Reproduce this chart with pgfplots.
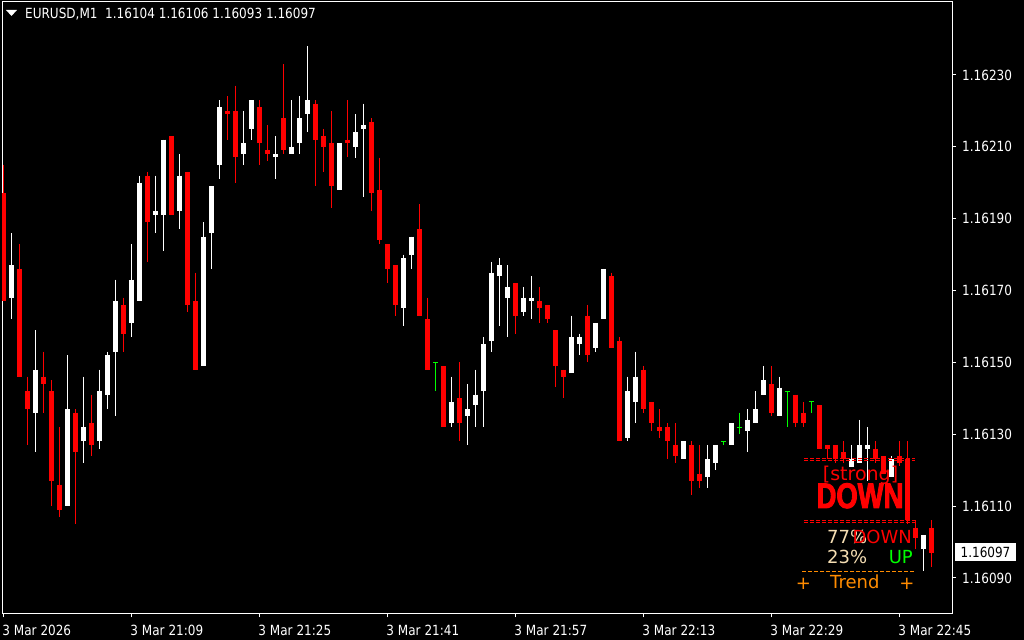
\documentclass[border=0pt]{standalone}
\usepackage{pgfplots}
\pgfplotsset{compat=1.18}
\usepackage{pgfplotstable}
\usepackage{fontspec}
\setmainfont{DejaVu Sans}[FakeStretch=0.86]
\newfontfamily\indfont{DejaVu Sans}
\newfontfamily\bigfont{Liberation Sans}[FakeStretch=0.77, BoldFeatures={FakeBold=2.5}]
\definecolor{mtred}{RGB}{255,0,0}
\definecolor{mtgreen}{RGB}{0,255,0}
\definecolor{mtwheat}{RGB}{245,222,179}
\definecolor{mtorange}{RGB}{255,140,0}
\newcommand\tfont{\fontsize{14bp}{16bp}\selectfont}

\pgfplotstableread{
i o h l c
1 1.16168 1.16186 1.16162 1.16177
4 1.16136 1.16159 1.16125 1.16148
8 1.16110 1.16152 1.16110 1.16137
10 1.16128 1.16146 1.16122 1.16132
12 1.16128 1.16148 1.16126 1.16142
13 1.16141 1.16153 1.16137 1.16152
14 1.16153 1.16173 1.16135 1.16167
16 1.16161 1.16183 1.16157 1.16173
17 1.16167 1.16202 1.16167 1.16200
19 1.16191 1.16202 1.16186 1.16192
20 1.16191 1.16212 1.16181 1.16212
22 1.16192 1.16208 1.16187 1.16202
25 1.16149 1.16189 1.16149 1.16185
26 1.16186 1.16199 1.16176 1.16199
27 1.16205 1.16223 1.16201 1.16221
30 1.16208 1.16220 1.16205 1.16211
31 1.16215 1.16223 1.16212 1.16223
34 1.16207 1.16213 1.16201 1.16208
36 1.16208 1.16223 1.16208 1.16210
37 1.16211 1.16224 1.16208 1.16218
38 1.16219 1.16238 1.16214 1.16223
42 1.16198 1.16211 1.16198 1.16211
44 1.16210 1.16219 1.16207 1.16214
45 1.16215 1.16222 1.16196 1.16216
50 1.16165 1.16180 1.16160 1.16179
51 1.16180 1.16185 1.16176 1.16185
56 1.16133 1.16146 1.16132 1.16139
58 1.16135 1.16144 1.16127 1.16137
59 1.16138 1.16148 1.16132 1.16141
60 1.16142 1.16157 1.16132 1.16155
61 1.16156 1.16178 1.16153 1.16175
62 1.16174 1.16179 1.16160 1.16177
63 1.16168 1.16177 1.16157 1.16171
65 1.16164 1.16171 1.16163 1.16168
66 1.16167 1.16174 1.16162 1.16168
71 1.16147 1.16163 1.16147 1.16157
72 1.16155 1.16158 1.16152 1.16157
74 1.16154 1.16161 1.16153 1.16161
75 1.16162 1.16176 1.16162 1.16176
78 1.16129 1.16146 1.16128 1.16142
79 1.16139 1.16153 1.16133 1.16146
85 1.16123 1.16128 1.16123 1.16128
88 1.16118 1.16127 1.16115 1.16123
89 1.16122 1.16127 1.16120 1.16127
91 1.16127 1.16133 1.16127 1.16133
93 1.16131 1.16137 1.16125 1.16134
94 1.16133 1.16142 1.16133 1.16137
95 1.16141 1.16149 1.16141 1.16145
97 1.16135 1.16146 1.16135 1.16143
106 1.16121 1.16127 1.16121 1.16123
107 1.16122 1.16134 1.16122 1.16127
108 1.16126 1.16132 1.16117 1.16127
111 1.16118 1.16124 1.16118 1.16123
115 1.16098 1.16102 1.16092 1.16102
}\bull

\pgfplotstableread{
i o h l c
0 1.16197 1.16205 1.16167 1.16167
2 1.16176 1.16183 1.16146 1.16146
3 1.16142 1.16146 1.16127 1.16137
5 1.16146 1.16153 1.16136 1.16144
6 1.16142 1.16145 1.16110 1.16117
7 1.16116 1.16132 1.16107 1.16109
9 1.16136 1.16137 1.16105 1.16125
11 1.16133 1.16141 1.16124 1.16127
15 1.16166 1.16168 1.16153 1.16158
18 1.16202 1.16203 1.16178 1.16189
21 1.16213 1.16213 1.16191 1.16191
23 1.16203 1.16203 1.16164 1.16166
24 1.16167 1.16175 1.16148 1.16148
28 1.16220 1.16224 1.16212 1.16219
29 1.16220 1.16227 1.16200 1.16207
32 1.16221 1.16223 1.16205 1.16211
33 1.16209 1.16216 1.16206 1.16208
35 1.16218 1.16233 1.16208 1.16209
39 1.16222 1.16223 1.16199 1.16212
40 1.16213 1.16215 1.16203 1.16210
41 1.16211 1.16220 1.16193 1.16199
43 1.16212 1.16223 1.16207 1.16211
46 1.16217 1.16218 1.16192 1.16197
47 1.16198 1.16207 1.16183 1.16184
48 1.16183 1.16183 1.16172 1.16176
49 1.16177 1.16177 1.16163 1.16166
52 1.16187 1.16194 1.16163 1.16163
53 1.16162 1.16168 1.16148 1.16148
55 1.16149 1.16149 1.16132 1.16132
57 1.16140 1.16150 1.16128 1.16133
64 1.16172 1.16172 1.16158 1.16163
67 1.16167 1.16171 1.16161 1.16165
68 1.16166 1.16166 1.16161 1.16162
69 1.16159 1.16159 1.16143 1.16149
70 1.16148 1.16148 1.16140 1.16146
73 1.16163 1.16166 1.16150 1.16152
76 1.16174 1.16175 1.16154 1.16154
77 1.16156 1.16157 1.16128 1.16128
80 1.16148 1.16149 1.16136 1.16137
81 1.16139 1.16139 1.16131 1.16133
82 1.16132 1.16137 1.16129 1.16131
83 1.16132 1.16133 1.16123 1.16128
84 1.16127 1.16133 1.16122 1.16124
86 1.16127 1.16128 1.16113 1.16117
87 1.16119 1.16127 1.16115 1.16117
96 1.16144 1.16149 1.16135 1.16136
99 1.16141 1.16141 1.16132 1.16133
100 1.16136 1.16139 1.16132 1.16133
102 1.16138 1.16138 1.16126 1.16126
103 1.16127 1.16127 1.16123 1.16126
104 1.16127 1.16127 1.16122 1.16123
105 1.16125 1.16128 1.16122 1.16123
109 1.16126 1.16128 1.16122 1.16123
110 1.16124 1.16124 1.16119 1.16119
112 1.16124 1.16128 1.16121 1.16122
113 1.16123 1.16128 1.16105 1.16106
114 1.16104 1.16106 1.16098 1.16101
116 1.16104 1.16106 1.16093 1.16097
}\bear

\pgfplotstableread{
i o h l c
54 1.16150 1.16150 1.16142 1.16150
90 1.16128 1.16128 1.16127 1.16128
92 1.16132 1.16136 1.16130 1.16132
98 1.16142 1.16142 1.16132 1.16142
101 1.16139 1.16139 1.16136 1.16139
}\doji

\begin{document}
\begin{tikzpicture}
\useasboundingbox (0,0) rectangle (1024bp,640bp);
\fill[black] (0,0) rectangle (1024bp,640bp);
\begin{axis}[
  at={(2bp,26.5bp)}, anchor=south west,
  width=950bp, height=611.5bp, scale only axis,
  xmin=-0.1625, xmax=118.59,
  ymin=1.160801, ymax=1.162503,
  axis line style={white, line width=1bp},
  ytick={1.1609,1.1611,1.1613,1.1615,1.1617,1.1619,1.1621,1.1623},
  yticklabels={1.16090,1.16110,1.16130,1.16150,1.16170,1.16190,1.16210,1.16230},
  ytick pos=right, yticklabel pos=right,
  xtick={0,16,32,48,64,80,96,112},
  xticklabels={3 Mar 2026,3 Mar 21:09,3 Mar 21:25,3 Mar 21:41,3 Mar 21:57,3 Mar 22:13,3 Mar 22:29,3 Mar 22:45},
  xtick pos=left,
  tick align=outside,
  major tick length=4bp,
  tick style={white, line width=1bp},
  tick label style={font=\tfont, text=white, inner sep=0pt},
  yticklabel style={anchor=west, xshift=6bp},
  xticklabel style={anchor=north west, xshift=-1bp, yshift=-7.5bp},
  /pgf/number format/assume math mode=true,
  clip=true,
]
% wicks
\addplot[forget plot, draw=none, mark=none, error bars/.cd, y dir=minus, y explicit, error mark=none,
  error bar style={draw=white, line width=1bp}]
  table[x=i, y=h, y error minus expr=\thisrow{h}-\thisrow{l}] {\bull};
\addplot[forget plot, draw=none, mark=none, error bars/.cd, y dir=minus, y explicit, error mark=none,
  error bar style={draw=mtred, line width=1bp}]
  table[x=i, y=h, y error minus expr=\thisrow{h}-\thisrow{l}] {\bear};
\addplot[forget plot, draw=none, mark=none, error bars/.cd, y dir=minus, y explicit, error mark=none,
  error bar style={draw=mtgreen, line width=1bp}]
  table[x=i, y=h, y error minus expr=\thisrow{h}-\thisrow{l}] {\doji};
% bodies
\addplot[forget plot, draw=none, mark=none, error bars/.cd, y dir=minus, y explicit, error mark=none,
  error bar style={draw=white, line width=5bp}]
  table[x=i, y=c, y error minus expr=\thisrow{c}-\thisrow{o}] {\bull};
\addplot[forget plot, draw=none, mark=none, error bars/.cd, y dir=minus, y explicit, error mark=none,
  error bar style={draw=mtred, line width=5bp}]
  table[x=i, y=o, y error minus expr=\thisrow{o}-\thisrow{c}] {\bear};
\addplot[forget plot, only marks, mark=-, mark size=2.5bp, mtgreen, mark options={line width=1bp}]
  table[x=i, y=o] {\doji};
\end{axis}
% overlay indicator (pixel positions: y_tikz = 640 - y_px)
\draw[mtred, line width=1bp, dash pattern=on 4bp off 2bp] (804bp,181.5bp) -- (915bp,181.5bp);
\draw[mtred, line width=1bp, dash pattern=on 4bp off 2bp] (804bp,179bp) -- (915bp,179bp);
\draw[mtred, line width=1bp, dash pattern=on 4bp off 2bp] (804bp,119.5bp) -- (915bp,119.5bp);
\draw[mtred, line width=1bp, dash pattern=on 4bp off 2bp] (804bp,117bp) -- (915bp,117bp);
\node[anchor=base, text=mtred, inner sep=0pt, font=\indfont\fontsize{19bp}{21bp}\selectfont] at (860.5bp,159.3bp) {[strong]};
\node[anchor=base, text=mtred, inner sep=0pt, font=\bigfont\bfseries\fontsize{35.6bp}{38bp}\selectfont] at (860bp,132bp) {DOWN};
\node[anchor=base west, text=mtwheat, inner sep=0pt, font=\indfont\fontsize{18bp}{20bp}\selectfont] at (827bp,96.7bp) {77\%};
\node[anchor=base east, text=mtred, inner sep=0pt, font=\indfont\fontsize{18bp}{20bp}\selectfont] at (912bp,96.7bp) {DOWN};
\node[anchor=base west, text=mtwheat, inner sep=0pt, font=\indfont\fontsize{18bp}{20bp}\selectfont] at (827bp,76.7bp) {23\%};
\node[anchor=base east, text=mtgreen, inner sep=0pt, font=\indfont\fontsize{18bp}{20bp}\selectfont] at (913bp,76.7bp) {UP};
\draw[mtorange, line width=1bp, dash pattern=on 4bp off 2bp] (802bp,68bp) -- (914bp,68bp);
\node[anchor=base, text=mtorange, inner sep=0pt, font=\indfont\fontsize{18bp}{20bp}\selectfont] at (803.5bp,50.5bp) {+};
\node[anchor=base west, text=mtorange, inner sep=0pt, font=\indfont\fontsize{18bp}{20bp}\selectfont] at (830bp,51.7bp) {Trend};
\node[anchor=base, text=mtorange, inner sep=0pt, font=\indfont\fontsize{18bp}{20bp}\selectfont] at (907bp,50.5bp) {+};
% header
\fill[white] (6bp,630bp) -- (17bp,630bp) -- (11.5bp,624bp) -- cycle;
\node[anchor=base west, text=white, inner sep=0pt, font=\tfont] at (25bp,621bp) {EURUSD,M1\ \ 1.16104 1.16106 1.16093 1.16097};
% current price box
\node[fill=white, text=black, inner sep=0pt, minimum width=61bp, minimum height=18bp, font=\tfont] at (985.5bp,88bp) {1.16097};
\end{tikzpicture}
\end{document}
